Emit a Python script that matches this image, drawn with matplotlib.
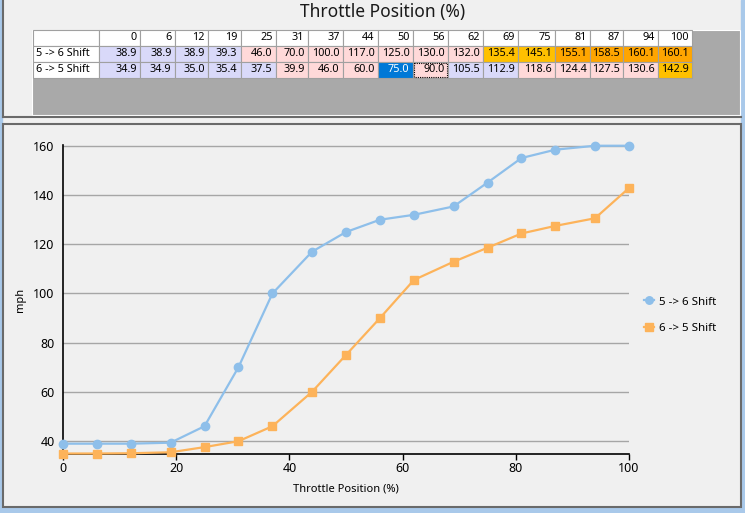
import matplotlib.pyplot as plt
from matplotlib.patches import Rectangle

# ------------ data ---------------

throttle = [0, 6, 12, 19, 25, 31, 37, 44, 50, 56, 62, 69, 75, 81, 87, 94, 100]
shift_5_6 = [38.9, 38.9, 38.9, 39.3, 46.0, 70.0, 100.0, 117.0, 125.0, 130.0,
             132.0, 135.4, 145.1, 155.1, 158.5, 160.1, 160.1]
shift_6_5 = [34.9, 34.9, 35.0, 35.4, 37.5, 39.9, 46.0, 60.0, 75.0, 90.0,
             105.5, 112.9, 118.6, 124.4, 127.5, 130.6, 142.9]
series_names = ['5 -> 6 Shift', '6 -> 5 Shift']
title = 'Throttle Position (%)'

# cell shading in the table: L lavender, P pink, O orange, D dark orange, S selected
shade_5_6 = 'LLLLPPPPPPPOODDDD'
shade_6_5 = 'LLLLLPPPSPLLPPPPO'
shade_colors = {'L': '#d9d9f9', 'P': '#ffd9d9', 'O': '#ffc000',
                'D': '#ffa500', 'S': '#0078d7'}

# ------------ steez ---------------

plt.rcParams['font.family'] = ['Noto Sans', 'DejaVu Sans']
BG = '#f0f0f0'
EDGE = '#6a6a6a'
BLUE = '#8ebfea'
ORANGE = '#fdb35a'

fig = plt.figure(figsize=(7.45, 5.13), dpi=100, facecolor=BG)

# pixel space canvas for panels and the table
bg = fig.add_axes([0, 0, 1, 1])
bg.set_xlim(0, 745)
bg.set_ylim(513, 0)
bg.axis('off')

bg.add_patch(Rectangle((0, 0), 1.5, 513, color='#a9c9ea'))
bg.add_patch(Rectangle((741, 0), 4, 513, color='#a9c9ea'))
bg.add_patch(Rectangle((0, 508), 745, 5, color='#a9c9ea'))
bg.plot([2.5, 2.5], [0, 117], color=EDGE, lw=1.5)
bg.plot([2.5, 741], [116.5, 116.5], color=EDGE, lw=1.5)
bg.add_patch(Rectangle((32, 30), 708, 85, fc='#a9a9a9', ec='white', lw=0.8))
bg.add_patch(Rectangle((2.5, 124), 738, 383, fill=False, ec=EDGE, lw=1.5))

bg.text(383, 12, title, ha='center', va='center', fontsize=12.5, color='#1a1a1a')

# table
col_widths = [41, 35, 33, 33, 35, 32, 35, 35, 35, 35, 35, 35, 37, 35, 33, 35, 34]
x0, label_w = 32.5, 66
row_tops = [30, 46, 62]
row_h = 16
grid = '#a0a0a0'

edges = [x0 + label_w]
for w in col_widths:
    edges.append(edges[-1] + w)

# header row
bg.add_patch(Rectangle((x0, row_tops[0]), label_w, row_h, fc='white', ec=grid, lw=0.8))
for i, tp in enumerate(throttle):
    bg.add_patch(Rectangle((edges[i], row_tops[0]), col_widths[i], row_h,
                           fc='white', ec=grid, lw=0.8))
    bg.text(edges[i + 1] - 3, row_tops[0] + row_h / 2, str(tp), ha='right',
            va='center', fontsize=7.8, color='black')

for r, (name, vals, shades) in enumerate(zip(series_names, [shift_5_6, shift_6_5],
                                             [shade_5_6, shade_6_5])):
    top = row_tops[r + 1]
    bg.add_patch(Rectangle((x0, top), label_w, row_h, fc='white', ec=grid, lw=0.8))
    bg.text(x0 + 3, top + row_h / 2, name, ha='left', va='center', fontsize=7.8)
    for i, v in enumerate(vals):
        bg.add_patch(Rectangle((edges[i], top), col_widths[i], row_h,
                               fc=shade_colors[shades[i]], ec=grid, lw=0.8))
        bg.text(edges[i + 1] - 3, top + row_h / 2, f'{v:.1f}', ha='right',
                va='center', fontsize=7.8,
                color='white' if shades[i] == 'S' else 'black')
        # focus box on the cell next to the selected one
        if i > 0 and shades[i - 1] == 'S':
            bg.add_patch(Rectangle((edges[i] + 1, top + 1), col_widths[i] - 2,
                                   row_h - 2, fill=False, ec='black', lw=0.8,
                                   ls=(0, (1, 1))))

# ------------ plot ---------------

ax = fig.add_axes([63 / 745, 1 - 454 / 513, (629 - 63) / 745, (454 - 145) / 513])
ax.set_facecolor(BG)

ax.plot(throttle, shift_5_6, color=BLUE, lw=1.6, marker='o', ms=6,
        label=series_names[0], zorder=3, clip_on=False)
ax.plot(throttle, shift_6_5, color=ORANGE, lw=1.6, marker='s', ms=6,
        label=series_names[1], zorder=3, clip_on=False)

ax.set_xlim(0, 100)
ax.set_ylim(34.7, 160.4)
ax.set_xticks(range(0, 101, 20))
ax.set_yticks(range(40, 161, 20))
ax.grid(axis='y', color='#a6a6a6', lw=1)
ax.set_axisbelow(True)

for side in ['top', 'right']:
    ax.spines[side].set_visible(False)
for side in ['left', 'bottom']:
    ax.spines[side].set_color('black')
    ax.spines[side].set_linewidth(1.2)

ax.tick_params(axis='x', length=4, width=1, pad=2, labelsize=9, colors='black')
ax.tick_params(axis='y', length=0, pad=6, labelsize=9, colors='black')

ax.set_xlabel(title, fontsize=8, labelpad=6)
ax.set_ylabel('mph', fontsize=8, labelpad=5)

fig.legend(loc='center left', bbox_to_anchor=(634 / 745, 1 - 315 / 513),
           frameon=False, fontsize=8.3, handlelength=0.8, handletextpad=0.5,
           labelspacing=1.3, markerscale=0.9)

plt.savefig('out.png', dpi=100, facecolor=BG)
